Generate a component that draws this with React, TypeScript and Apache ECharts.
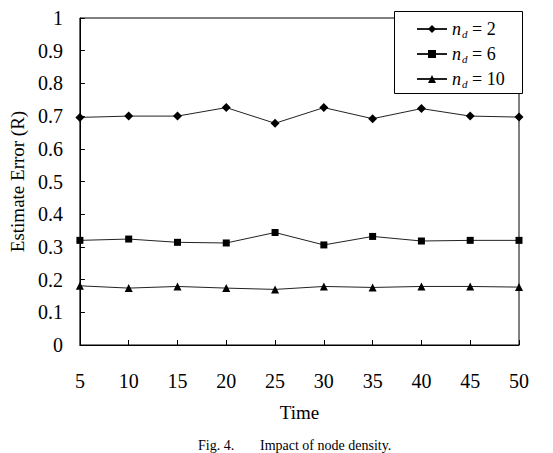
import React, { useEffect, useRef } from "react";
import * as echarts from "echarts";

const times = [5, 10, 15, 20, 25, 30, 35, 40, 45, 50];
const nd2 = [0.696, 0.7, 0.7, 0.726, 0.678, 0.726, 0.692, 0.723, 0.7, 0.697];
const nd6 = [0.32, 0.324, 0.314, 0.312, 0.344, 0.306, 0.332, 0.318, 0.32, 0.32];
const nd10 = [0.181, 0.174, 0.179, 0.174, 0.17, 0.179, 0.176, 0.179, 0.179, 0.177];
const seriesNames = ["nd2", "nd6", "nd10"];
const seriesLabels = ["2", "6", "10"];
const symbols = ["diamond", "rect", "triangle"];

const FONT = "'Liberation Serif', serif";

export default function App() {
  const ref = useRef<HTMLDivElement>(null);
  useEffect(() => {
    const chart = echarts.init(ref.current!, null, { renderer: "svg" });
    const datas = [nd2, nd6, nd10];
    const sizes = [9, 7, 8];
    chart.setOption({
      animation: false,
      backgroundColor: "#fff",
      textStyle: { fontFamily: FONT, color: "#000" },
      grid: {
        left: 77.5,
        right: 34,
        top: 18,
        bottom: 108,
        show: true,
        borderColor: "#000",
        borderWidth: 1,
      },
      xAxis: {
        type: "value",
        min: 5,
        max: 50,
        interval: 5,
        name: "Time",
        nameLocation: "middle",
        nameGap: 58,
        nameTextStyle: { fontFamily: FONT, fontSize: 19, color: "#000" },
        axisLine: { lineStyle: { color: "#000", width: 1 } },
        axisTick: { inside: true, length: 5, lineStyle: { color: "#000" } },
        axisLabel: { fontFamily: FONT, fontSize: 20, color: "#000", margin: 26 },
        splitLine: { show: false },
      },
      yAxis: {
        type: "value",
        min: 0,
        max: 1,
        interval: 0.1,
        name: "Estimate Error (R)",
        nameLocation: "middle",
        nameGap: 50,
        nameTextStyle: { fontFamily: FONT, fontSize: 19, color: "#000" },
        axisLine: { lineStyle: { color: "#000", width: 1 } },
        axisTick: { inside: true, length: 5, lineStyle: { color: "#000" } },
        axisLabel: { fontFamily: FONT, fontSize: 20, color: "#000", margin: 17 },
        splitLine: { show: false },
      },
      legend: {
        orient: "vertical",
        left: 394,
        top: 11,
        padding: [9, 10, 6, 22],
        itemGap: 6,
        itemWidth: 30,
        itemHeight: 10,
        data: seriesNames,
        z: 10,
        formatter: (name: string) => {
          const i = seriesNames.indexOf(name);
          return "{n|n}{d|d}{t| = " + seriesLabels[i] + "}";
        },
        textStyle: {
          color: "#000",
          fontFamily: FONT,
          rich: {
            n: { fontFamily: FONT, fontStyle: "italic", fontSize: 18, color: "#000" },
            d: { fontFamily: FONT, fontStyle: "italic", fontSize: 11, color: "#000", padding: [9, 0, 0, 1] },
            t: { fontFamily: FONT, fontSize: 18, color: "#000" },
          },
        },
      },
      graphic: [
        {
          type: "rect",
          left: 394,
          top: 11,
          z: 9,
          shape: { width: 128, height: 82 },
          style: { fill: "#fff", stroke: "#000", lineWidth: 1 },
        },
        {
          type: "text",
          left: 198,
          top: 438,
          style: { text: "Fig. 4.", fontFamily: FONT, fontSize: 14, fill: "#000" },
        },
        {
          type: "text",
          left: 260,
          top: 438,
          style: { text: "Impact of node density.", fontFamily: FONT, fontSize: 14, fill: "#000" },
        },
      ],
      series: seriesNames.map((name, i) => ({
        name,
        type: "line",
        symbol: symbols[i],
        symbolSize: sizes[i],
        lineStyle: { color: "#222", width: 1 },
        itemStyle: { color: "#000" },
        data: times.map((t, j) => [t, datas[i][j]]),
      })),
    });
    return () => chart.dispose();
  }, []);
  return <div ref={ref} style={{ width: 553, height: 453, position: "absolute", left: 0, top: 0 }} />;
}
